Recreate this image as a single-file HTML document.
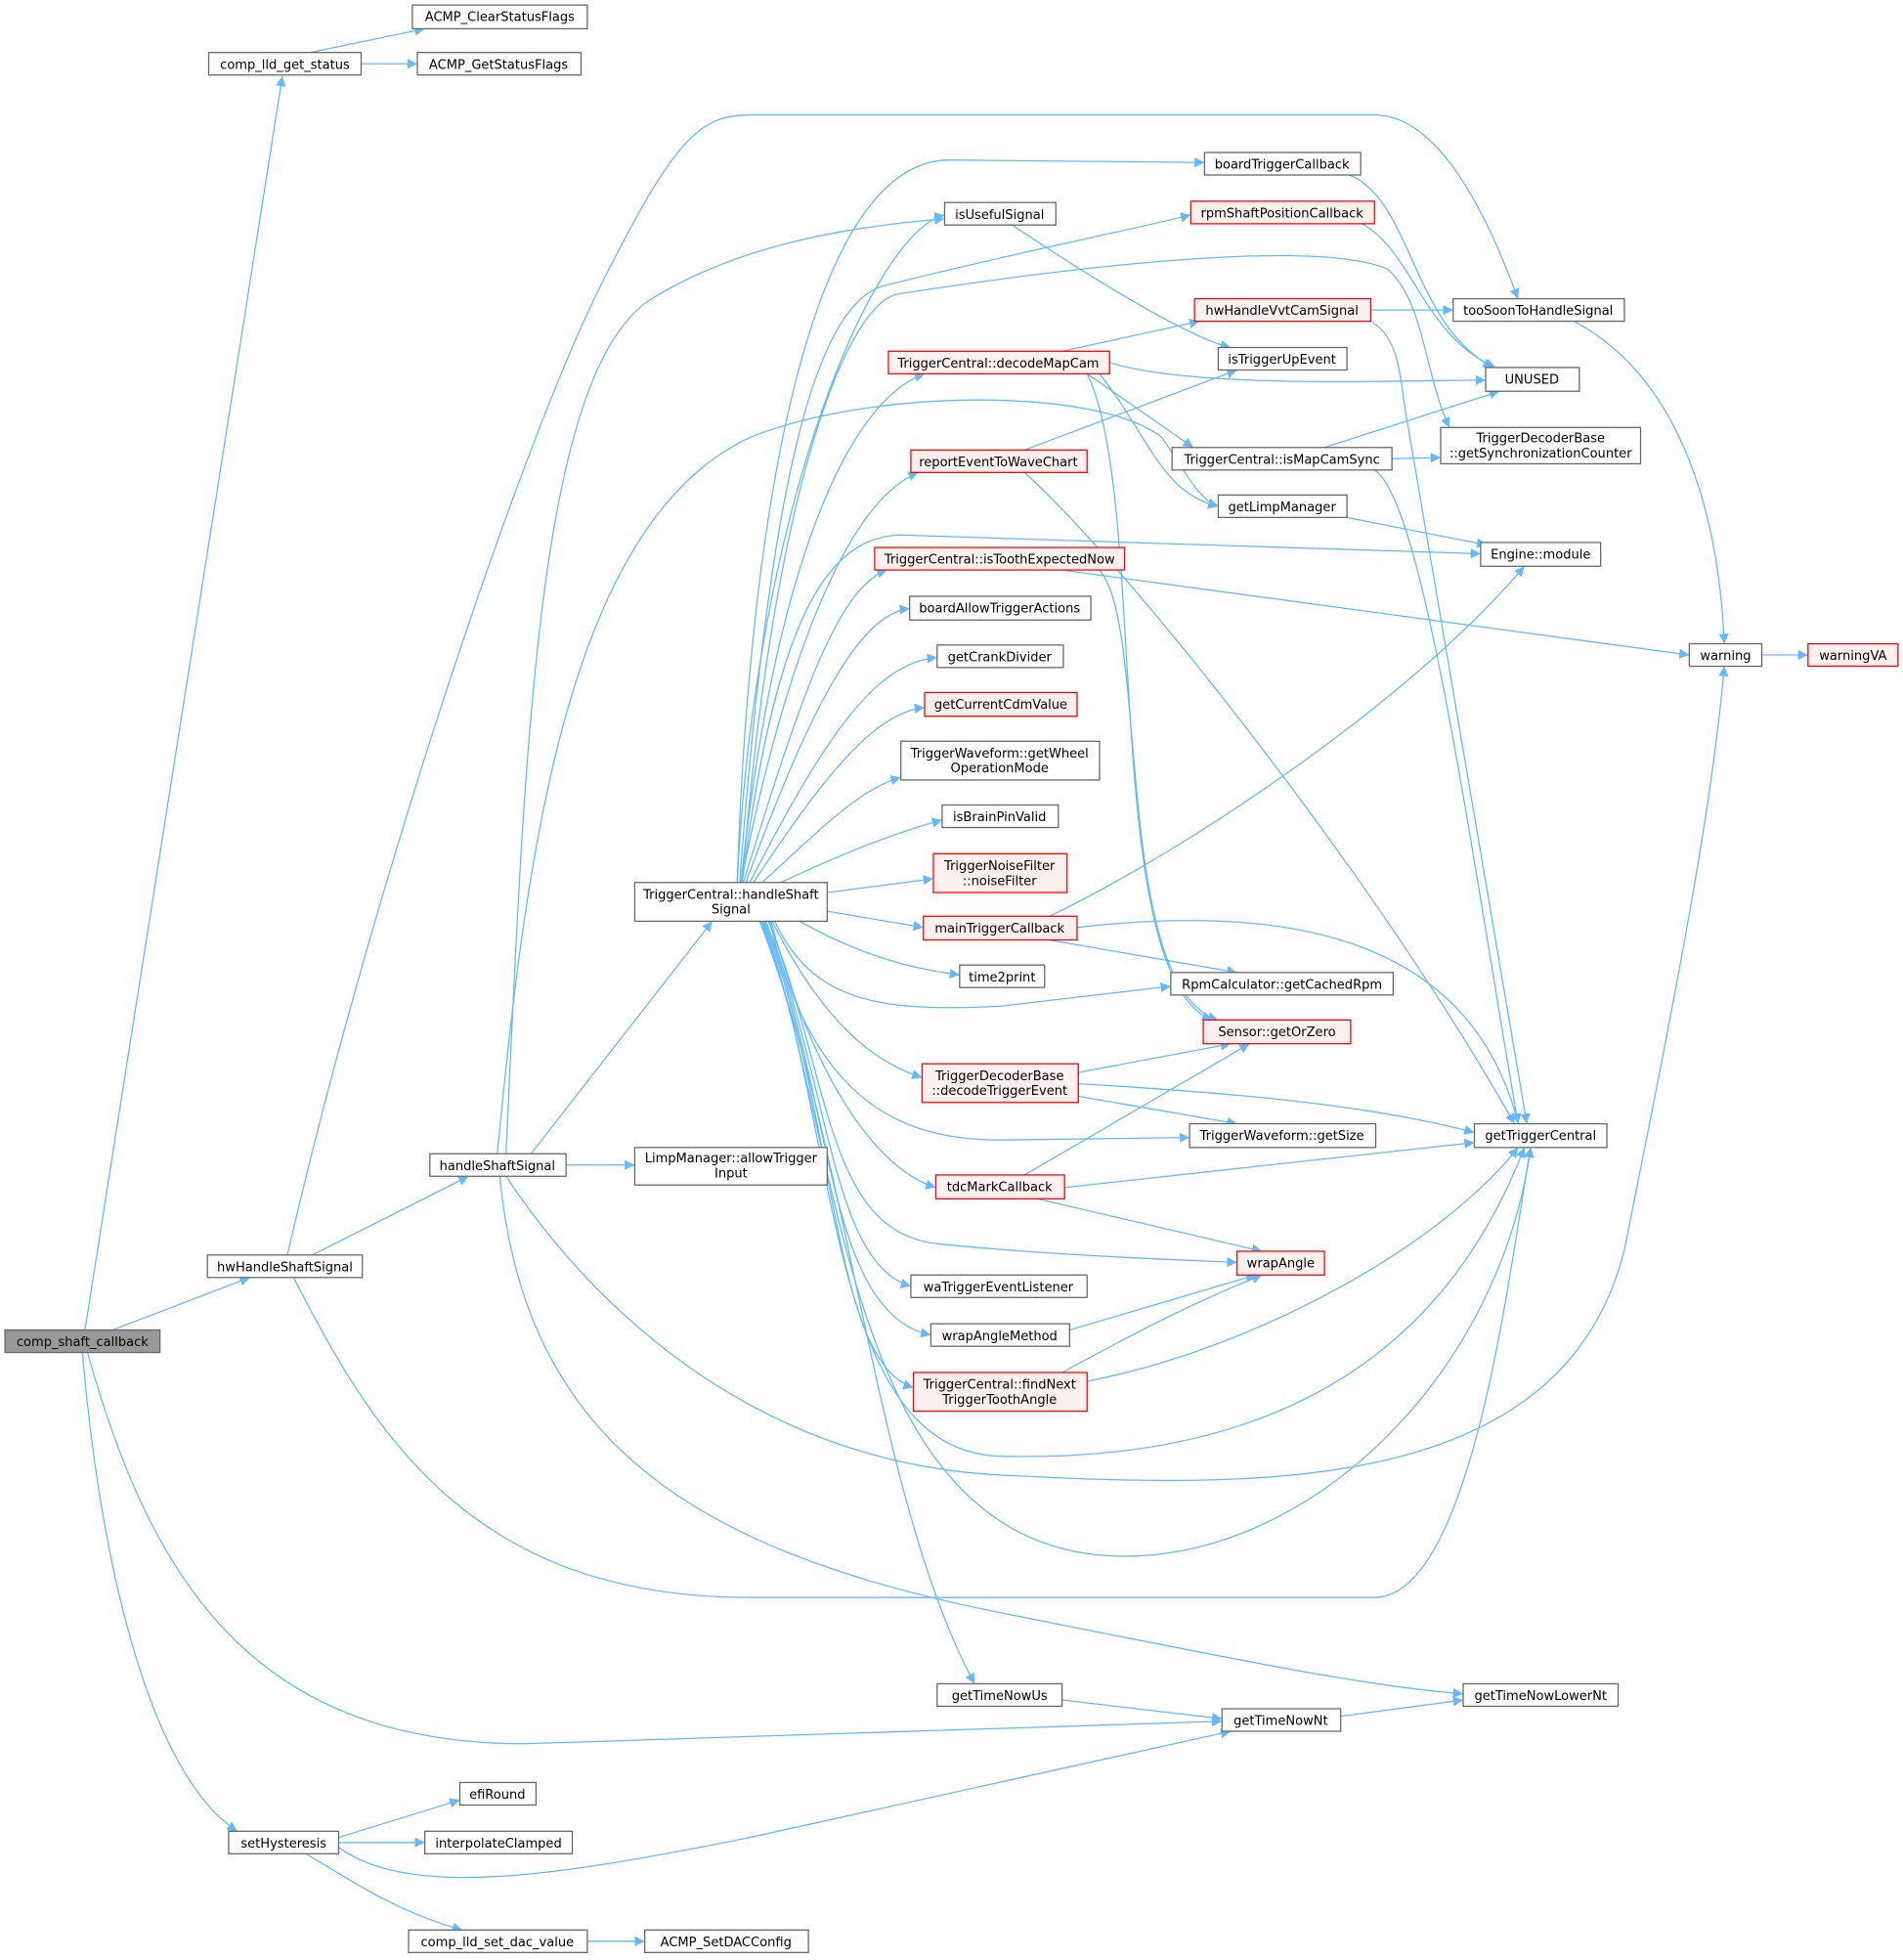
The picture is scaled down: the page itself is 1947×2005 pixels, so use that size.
<!DOCTYPE html>
<html><head><meta charset="utf-8"><style>
html,body{margin:0;padding:0;background:#fff;}
svg{display:block;}
text{font-family:"DejaVu Sans","Liberation Sans",sans-serif;font-size:10.2px;fill:#000;}
.n{fill:#fff;stroke:#666;stroke-width:1;}
.r{fill:#fff0f0;stroke:#ff0000;stroke-width:1;}
.g{fill:#999;stroke:#666;stroke-width:1;}
.e{fill:none;stroke:#63b8ff;stroke-width:1;marker-end:url(#a);}
</style></head><body>
<svg width="1947" height="2005" viewBox="0 0 1523 1568" preserveAspectRatio="none">
<defs><marker id="a" viewBox="0 0 10 10" refX="10" refY="5" markerWidth="8" markerHeight="8" markerUnits="userSpaceOnUse" orient="auto"><path d="M0,0 L10,5 L0,10 z" fill="#63b8ff"/></marker></defs>
<g>
<path class="e" d="M68,1064 L226,61"/>
<path class="e" d="M90,1064 L200,1022"/>
<path class="e" d="M70,1082 C120,1260 200,1395 420,1395 L978,1377"/>
<path class="e" d="M66,1082 C80,1250 120,1420 190,1465"/>
<path class="e" d="M248,42 L340,23"/>
<path class="e" d="M289,51 L334,51"/>
<path class="e" d="M250,1004 L375,941"/>
<path class="e" d="M230,1004 C300,700 420,350 480,230 C540,110 560,92 600,92 L1100,92 C1160,92 1200,200 1215,239"/>
<path class="e" d="M235,1022 C300,1150 380,1278 600,1278 L1100,1278 C1180,1278 1210,1000 1225,918"/>
<path class="e" d="M425,923 L570,737"/>
<path class="e" d="M453,932 L508,932"/>
<path class="e" d="M405,923 C420,600 430,300 520,240 C600,190 700,180 756,175"/>
<path class="e" d="M398,923 C420,700 450,420 600,350 C700,310 880,310 930,350 C950,380 960,400 975,405"/>
<path class="e" d="M405,941 C470,1040 600,1170 800,1180 C1000,1190 1250,1200 1300,1000 C1340,800 1370,650 1380,533"/>
<path class="e" d="M400,941 C420,1150 550,1240 800,1290 C1000,1330 1100,1350 1171,1355"/>
<path class="e" d="M590,706 C600,400 650,128 760,128 L964,130"/>
<path class="e" d="M590,706 C605,400 700,185 756,172"/>
<path class="e" d="M592,706 C615,400 650,240 710,228 C800,205 900,185 953,172"/>
<path class="e" d="M594,706 C620,380 680,240 720,235 C850,215 1050,190 1110,215 C1140,240 1140,300 1160,342"/>
<path class="e" d="M593,706 C620,450 680,320 740,299"/>
<path class="e" d="M593,706 C630,520 680,400 735,378"/>
<path class="e" d="M594,706 C620,500 660,430 720,428 L1185,443"/>
<path class="e" d="M595,706 C640,560 670,470 710,456"/>
<path class="e" d="M597,706 C650,560 690,490 728,487"/>
<path class="e" d="M600,706 C660,590 700,530 750,526"/>
<path class="e" d="M603,706 C660,620 700,570 740,566"/>
<path class="e" d="M610,706 C660,660 690,630 721,622"/>
<path class="e" d="M625,706 C680,680 720,665 754,656"/>
<path class="e" d="M662,714 L747,703"/>
<path class="e" d="M662,729 L739,742"/>
<path class="e" d="M640,737 C690,765 730,775 768,780"/>
<path class="e" d="M620,737 C650,800 700,810 800,805 L937,789"/>
<path class="e" d="M618,737 C660,820 700,850 738,862"/>
<path class="e" d="M616,737 C650,880 720,912 800,912 L952,910"/>
<path class="e" d="M617,737 C650,860 700,935 749,950"/>
<path class="e" d="M615,737 C665,860 660,985 750,995 C850,1005 950,1008 990,1010"/>
<path class="e" d="M613,737 C665,870 665,1010 729,1029"/>
<path class="e" d="M612,737 C668,880 660,1050 745,1068"/>
<path class="e" d="M611,737 C670,890 665,1090 731,1110"/>
<path class="e" d="M610,737 C672,900 660,1160 800,1165 C1000,1170 1150,1100 1220,918"/>
<path class="e" d="M609,737 C675,900 670,1245 900,1245 C1050,1245 1200,1100 1225,918"/>
<path class="e" d="M608,737 C680,920 700,1200 780,1347"/>
<path class="e" d="M850,281 L960,257"/>
<path class="e" d="M888,290 C950,310 1100,305 1189,304"/>
<path class="e" d="M870,299 L955,358"/>
<path class="e" d="M880,299 C920,350 930,395 975,405"/>
<path class="e" d="M870,299 C920,400 880,780 970,816"/>
<path class="e" d="M820,360 L990,296"/>
<path class="e" d="M810,180 C870,220 950,270 985,278"/>
<path class="e" d="M1080,140 C1130,160 1130,260 1195,294"/>
<path class="e" d="M1090,179 C1130,200 1140,270 1197,294"/>
<path class="e" d="M1097,248 L1163,248"/>
<path class="e" d="M1097,257 C1120,270 1120,300 1125,330 L1222,899"/>
<path class="e" d="M1260,257 C1340,300 1375,400 1380,515"/>
<path class="e" d="M1060,358 L1200,313"/>
<path class="e" d="M1114,367 L1153,366"/>
<path class="e" d="M1100,376 C1140,400 1180,700 1215,899"/>
<path class="e" d="M1078,414 L1190,436"/>
<path class="e" d="M820,378 C900,450 1100,700 1212,899"/>
<path class="e" d="M850,456 L1352,524"/>
<path class="e" d="M880,456 C920,500 890,790 975,816"/>
<path class="e" d="M1410,524 L1447,524"/>
<path class="e" d="M840,733 C950,680 1130,560 1220,453"/>
<path class="e" d="M840,752 L990,778"/>
<path class="e" d="M862,742 C1050,720 1180,760 1215,899"/>
<path class="e" d="M863,858 L985,835"/>
<path class="e" d="M863,877 L990,899"/>
<path class="e" d="M863,867 C1000,875 1100,885 1180,906"/>
<path class="e" d="M820,940 L1000,835"/>
<path class="e" d="M852,950 L1180,914"/>
<path class="e" d="M830,959 L1010,1001"/>
<path class="e" d="M856,1064 L1005,1020"/>
<path class="e" d="M850,1098 C920,1060 960,1040 1010,1020"/>
<path class="e" d="M870,1105 C1000,1080 1150,1000 1215,918"/>
<path class="e" d="M850,1360 L978,1375"/>
<path class="e" d="M1073,1373 L1171,1360"/>
<path class="e" d="M271,1470 L368,1440"/>
<path class="e" d="M271,1474 L340,1474"/>
<path class="e" d="M271,1478 C330,1520 450,1500 600,1470 L985,1385"/>
<path class="e" d="M245,1483 C290,1510 320,1530 370,1544"/>
<path class="e" d="M470,1553 L516,1553"/>
</g>
<g text-anchor="middle">
<rect class="g" x="4" y="1064" width="124" height="18"/><text x="66" y="1077">comp_shaft_callback</text>
<rect class="n" x="167" y="42" width="122" height="18"/><text x="228" y="55">comp_lld_get_status</text>
<rect class="n" x="330" y="4" width="140" height="19"/><text x="400" y="17">ACMP_ClearStatusFlags</text>
<rect class="n" x="334" y="42" width="131" height="18"/><text x="399" y="55">ACMP_GetStatusFlags</text>
<rect class="n" x="166" y="1004" width="124" height="18"/><text x="228" y="1017">hwHandleShaftSignal</text>
<rect class="n" x="344" y="923" width="109" height="18"/><text x="398" y="936">handleShaftSignal</text>
<rect class="n" x="508" y="706" width="154" height="31"/><text x="585" y="719">TriggerCentral::handleShaft</text><text x="585" y="731">Signal</text>
<rect class="n" x="508" y="918" width="154" height="30"/><text x="585" y="930">LimpManager::allowTrigger</text><text x="585" y="942">Input</text>
<rect class="n" x="183" y="1465" width="88" height="18"/><text x="227" y="1478">setHysteresis</text>
<rect class="n" x="368" y="1426" width="61" height="18"/><text x="398" y="1439">efiRound</text>
<rect class="n" x="340" y="1465" width="118" height="18"/><text x="399" y="1478">interpolateClamped</text>
<rect class="n" x="327" y="1544" width="143" height="18"/><text x="398" y="1557">comp_lld_set_dac_value</text>
<rect class="n" x="516" y="1544" width="131" height="18"/><text x="581" y="1557">ACMP_SetDACConfig</text>
<rect class="n" x="964" y="122" width="125" height="18"/><text x="1026" y="135">boardTriggerCallback</text>
<rect class="n" x="756" y="162" width="89" height="18"/><text x="800" y="175">isUsefulSignal</text>
<rect class="r" x="953" y="161" width="147" height="18"/><text x="1026" y="174">rpmShaftPositionCallback</text>
<rect class="r" x="956" y="239" width="141" height="18"/><text x="1026" y="252">hwHandleVvtCamSignal</text>
<rect class="n" x="1163" y="239" width="137" height="18"/><text x="1231" y="252">tooSoonToHandleSignal</text>
<rect class="r" x="711" y="281" width="177" height="18"/><text x="799" y="294">TriggerCentral::decodeMapCam</text>
<rect class="n" x="975" y="278" width="103" height="18"/><text x="1026" y="291">isTriggerUpEvent</text>
<rect class="n" x="1189" y="294" width="75" height="19"/><text x="1226" y="307">UNUSED</text>
<rect class="n" x="938" y="358" width="176" height="18"/><text x="1026" y="371">TriggerCentral::isMapCamSync</text>
<rect class="n" x="1153" y="342" width="160" height="29"/><text x="1233" y="354">TriggerDecoderBase</text><text x="1233" y="366">::getSynchronizationCounter</text>
<rect class="r" x="729" y="360" width="141" height="18"/><text x="799" y="373">reportEventToWaveChart</text>
<rect class="n" x="975" y="396" width="103" height="18"/><text x="1026" y="409">getLimpManager</text>
<rect class="n" x="1185" y="434" width="96" height="19"/><text x="1233" y="447">Engine::module</text>
<rect class="r" x="700" y="438" width="200" height="18"/><text x="800" y="451">TriggerCentral::isToothExpectedNow</text>
<rect class="n" x="1352" y="515" width="58" height="18"/><text x="1381" y="528">warning</text>
<rect class="r" x="1447" y="515" width="72" height="18"/><text x="1483" y="528">warningVA</text>
<rect class="n" x="728" y="477" width="145" height="19"/><text x="800" y="490">boardAllowTriggerActions</text>
<rect class="n" x="750" y="516" width="101" height="18"/><text x="800" y="529">getCrankDivider</text>
<rect class="r" x="740" y="554" width="122" height="19"/><text x="801" y="567">getCurrentCdmValue</text>
<rect class="n" x="721" y="593" width="159" height="31"/><text x="800" y="606">TriggerWaveform::getWheel</text><text x="800" y="618">OperationMode</text>
<rect class="n" x="754" y="644" width="93" height="18"/><text x="800" y="657">isBrainPinValid</text>
<rect class="r" x="747" y="683" width="107" height="31"/><text x="800" y="696">TriggerNoiseFilter</text><text x="800" y="708">::noiseFilter</text>
<rect class="r" x="739" y="733" width="123" height="19"/><text x="800" y="746">mainTriggerCallback</text>
<rect class="n" x="768" y="772" width="68" height="18"/><text x="802" y="785">time2print</text>
<rect class="n" x="937" y="778" width="178" height="18"/><text x="1026" y="791">RpmCalculator::getCachedRpm</text>
<rect class="r" x="963" y="816" width="118" height="19"/><text x="1022" y="829">Sensor::getOrZero</text>
<rect class="r" x="738" y="851" width="125" height="31"/><text x="800" y="864">TriggerDecoderBase</text><text x="800" y="876">::decodeTriggerEvent</text>
<rect class="n" x="952" y="899" width="149" height="19"/><text x="1026" y="912">TriggerWaveform::getSize</text>
<rect class="n" x="1180" y="899" width="106" height="19"/><text x="1233" y="912">getTriggerCentral</text>
<rect class="r" x="749" y="940" width="103" height="19"/><text x="800" y="953">tdcMarkCallback</text>
<rect class="r" x="990" y="1001" width="70" height="19"/><text x="1025" y="1014">wrapAngle</text>
<rect class="n" x="729" y="1020" width="141" height="18"/><text x="799" y="1033">waTriggerEventListener</text>
<rect class="n" x="745" y="1059" width="111" height="18"/><text x="800" y="1072">wrapAngleMethod</text>
<rect class="r" x="731" y="1098" width="139" height="31"/><text x="800" y="1111">TriggerCentral::findNext</text><text x="800" y="1123">TriggerToothAngle</text>
<rect class="n" x="750" y="1347" width="100" height="18"/><text x="800" y="1360">getTimeNowUs</text>
<rect class="n" x="1171" y="1347" width="124" height="18"/><text x="1233" y="1360">getTimeNowLowerNt</text>
<rect class="n" x="978" y="1367" width="95" height="18"/><text x="1025" y="1380">getTimeNowNt</text>
</g>
</svg>
</body></html>
